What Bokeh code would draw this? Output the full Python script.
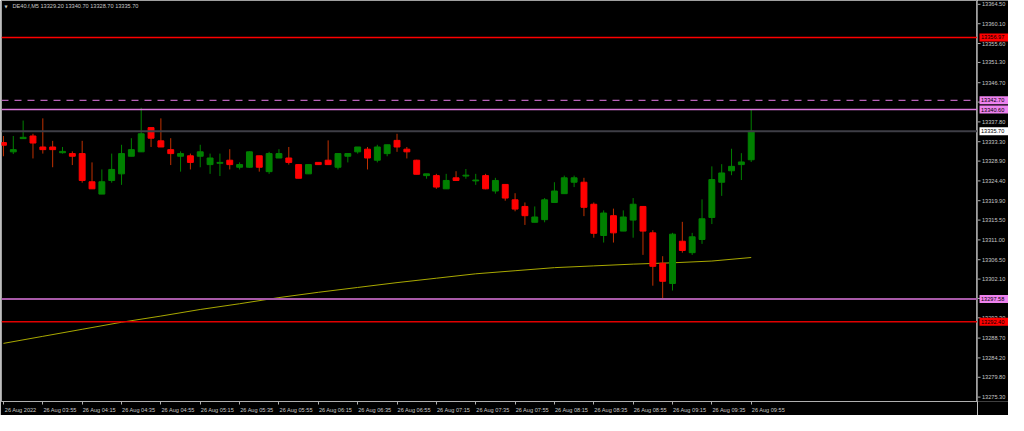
from bokeh.plotting import figure
from bokeh.layouts import row
from bokeh.models import (ColumnDataSource, Range1d, FixedTicker, CustomJSTickFormatter, Span, Label)
from bokeh.embed import file_html
from bokeh.resources import INLINE
from bokeh.core.properties import value

symbol = "DE40.f,M5"

opens = [13333.1, 13331.0, 13334.0, 13334.6, 13332.1, 13332.1, 13330.8, 13330.6, 13330.6, 13324.2,
         13321.4, 13324.5, 13326.0, 13330.0, 13331.0, 13336.5, 13333.5, 13331.5, 13330.0, 13330.1,
         13330.0, 13328.1, 13328.4, 13329.1, 13327.5, 13327.5, 13330.1, 13326.5, 13329.6, 13329.6,
         13328.1, 13326.0, 13328.6, 13329.1, 13327.5, 13330.0, 13331.0, 13331.6, 13329.1, 13330.6,
         13333.6, 13331.6, 13329.1, 13325.6, 13325.6, 13322.6, 13325.1, 13325.5, 13324.4, 13325.6,
         13322.1, 13323.6, 13320.1, 13318.6, 13315.0, 13315.6, 13319.5, 13321.5, 13324.1, 13324.1,
         13319.1, 13312.0, 13316.5, 13313.0, 13315.5, 13318.6, 13312.6, 13305.7, 13301.1, 13310.7,
         13308.1, 13311.1, 13316.1, 13324.1, 13326.7, 13328.1, 13329.2]
highs = [13334.6, 13334.6, 13338.1, 13335.1, 13338.6, 13333.5, 13332.1, 13331.1, 13333.5, 13328.6,
         13327.0, 13330.6, 13332.6, 13334.1, 13341.0, 13336.5, 13338.6, 13334.1, 13331.1, 13330.6,
         13332.6, 13330.6, 13330.6, 13331.6, 13328.6, 13331.1, 13330.1, 13331.0, 13331.6, 13332.1,
         13328.1, 13328.1, 13328.6, 13333.6, 13330.6, 13330.6, 13332.1, 13332.1, 13332.6, 13332.6,
         13335.1, 13332.1, 13329.2, 13326.0, 13326.0, 13326.0, 13326.6, 13327.1, 13326.0, 13326.0,
         13325.1, 13323.6, 13321.6, 13319.5, 13318.6, 13320.5, 13324.1, 13325.6, 13325.6, 13325.1,
         13319.5, 13317.7, 13318.1, 13317.7, 13320.5, 13318.6, 13313.2, 13307.3, 13312.6, 13315.1,
         13312.6, 13320.2, 13327.7, 13328.2, 13331.7, 13330.7, 13340.7]
lows = [13330.0, 13330.5, 13334.0, 13329.5, 13330.6, 13327.5, 13330.6, 13328.0, 13324.0, 13322.6,
        13321.4, 13324.0, 13323.5, 13330.0, 13331.0, 13332.1, 13332.1, 13328.0, 13326.5, 13327.0,
        13327.5, 13326.0, 13325.5, 13327.0, 13327.0, 13327.4, 13326.5, 13326.0, 13329.6, 13328.1,
        13325.0, 13326.0, 13328.1, 13328.1, 13327.0, 13328.6, 13330.6, 13327.0, 13328.6, 13330.0,
        13331.0, 13329.5, 13325.9, 13324.9, 13322.6, 13322.6, 13324.4, 13324.9, 13323.5, 13322.5,
        13321.5, 13319.9, 13317.5, 13314.4, 13315.0, 13315.0, 13319.5, 13321.5, 13323.0, 13316.4,
        13311.5, 13310.4, 13310.4, 13313.0, 13311.5, 13307.6, 13300.6, 13297.6, 13299.5, 13308.1,
        13307.6, 13310.1, 13314.6, 13321.0, 13325.7, 13324.6, 13328.7]
closes = [13332.5, 13331.5, 13334.3, 13333.0, 13331.5, 13331.5, 13331.1, 13330.0, 13324.5, 13322.6,
          13324.2, 13327.0, 13330.6, 13331.5, 13335.1, 13334.1, 13332.1, 13330.6, 13330.6, 13328.6,
          13331.0, 13329.6, 13328.6, 13328.1, 13328.1, 13331.0, 13327.5, 13330.6, 13330.6, 13328.6,
          13325.0, 13328.1, 13328.1, 13328.1, 13330.6, 13330.6, 13332.1, 13329.6, 13332.1, 13332.6,
          13332.1, 13331.0, 13325.9, 13326.0, 13323.0, 13324.5, 13324.5, 13325.7, 13324.6, 13322.6,
          13324.5, 13320.5, 13318.0, 13316.5, 13316.2, 13320.1, 13322.1, 13325.1, 13325.1, 13318.4,
          13312.5, 13317.1, 13312.6, 13316.2, 13319.1, 13313.0, 13305.0, 13301.6, 13312.3, 13308.6,
          13311.7, 13315.8, 13324.7, 13326.2, 13327.7, 13328.7, 13335.7]

# time-axis labels, one every 4 bars (20 minutes)
x_labels = ["26 Aug 2022", "26 Aug 03:55", "26 Aug 04:15", "26 Aug 04:35", "26 Aug 04:55",
            "26 Aug 05:15", "26 Aug 05:35", "26 Aug 05:55", "26 Aug 06:15", "26 Aug 06:35",
            "26 Aug 06:55", "26 Aug 07:15", "26 Aug 07:35", "26 Aug 07:55", "26 Aug 08:15",
            "26 Aug 08:35", "26 Aug 08:55", "26 Aug 09:15", "26 Aug 09:35", "26 Aug 09:55"]
label_step = 4

# moving average, read at each labelled bar
ma_values = [13287.5, 13289.1, 13290.7, 13292.3, 13293.7, 13295.2, 13296.5, 13297.9, 13299.1, 13300.2,
             13301.3, 13302.3, 13303.3, 13304.0, 13304.7, 13305.1, 13305.5, 13305.8, 13306.2, 13307.0]

# price-scale tick values
y_ticks = [13364.50, 13360.10, 13355.60, 13351.30, 13346.70, 13342.30, 13337.80, 13333.30, 13328.90,
           13324.40, 13319.90, 13315.50, 13311.00, 13306.50, 13302.10, 13297.70, 13293.30, 13288.70,
           13284.20, 13279.80, 13275.30]

# horizontal levels and their price tags
levels = [13356.97, 13342.70, 13340.60, 13335.70, 13297.58, 13292.40]
level_colors = ["#ff0000", "#b862b8", "#dc78dc", "#3e3e46", "#a85aa8", "#e00000"]
level_dash = ["solid", "7 6", "solid", "solid", "solid", "solid"]
level_width = [1.5, 1.2, 1.5, 2, 2, 1.5]
tag_fill = ["#ff0000", "#ee82ee", "#ee82ee", "#ffffff", "#ee82ee", "#ff0000"]

BULL = "#008000"
BEAR = "#ff0000"
BEAR_WICK = "#c03000"
FG = "#c8c8c8"
AXIS = "#b0b0b0"
FONT = "Liberation Sans"
FS = "5.6px"

TOTAL_H = 415
BOTTOM = 14          # height of the time-axis strip
SIDE_W = 31          # width of the price-scale strip
MAIN_W = 1008 - SIDE_W

idx = list(range(len(opens)))
up = [c >= o for o, c in zip(opens, closes)]
src = ColumnDataSource(dict(
    x=idx, high=highs, low=lows,
    top=[max(o, c) for o, c in zip(opens, closes)],
    bottom=[min(o, c) for o, c in zip(opens, closes)],
    body=[BULL if u else BEAR for u in up],
    wick=[BULL if u else BEAR_WICK for u in up],
))

x_end = 99.0
y_range = Range1d(13274.3, 13365.37)
p = figure(width=MAIN_W, height=TOTAL_H, output_backend="svg", toolbar_location=None,
           x_range=Range1d(-0.2, x_end), y_range=y_range,
           y_axis_location=None, background_fill_color="black", border_fill_color="black",
           outline_line_color="#a0a0a0", min_border_left=1, min_border_right=0,
           min_border_top=0, min_border_bottom=BOTTOM)
p.grid.visible = False

# horizontal levels
for lv, col, dash, w in zip(levels, level_colors, level_dash, level_width):
    p.add_layout(Span(location=lv, dimension="width", line_color=col, line_dash=dash, line_width=w))

# moving average
ma_x = [i * label_step for i in range(len(ma_values))]
p.line(ma_x, ma_values, line_color="#a8a800", line_width=1)

# candles
p.segment(x0="x", y0="high", x1="x", y1="low", source=src, line_color="wick", line_width=1)
p.vbar(x="x", width=0.6, top="top", bottom="bottom", source=src, fill_color="body",
       line_color="body", line_width=1)

# time axis: tick marks at labelled bars, labels starting just right of them
shift = 1.75
xa = p.xaxis[0]
xa.ticker = FixedTicker(ticks=[i * label_step + shift for i in range(len(x_labels))],
                        minor_ticks=[i * label_step for i in range(len(x_labels))])
xa.formatter = CustomJSTickFormatter(
    args=dict(labels=x_labels, step=label_step, shift=shift),
    code="const k = Math.round((tick - shift) / step); return (k >= 0 && k < labels.length) ? labels[k] : '';")
xa.axis_line_color = AXIS
xa.major_tick_line_color = None
xa.major_tick_out = 0
xa.major_tick_in = 0
xa.minor_tick_line_color = AXIS
xa.minor_tick_out = 3
xa.minor_tick_in = 0
xa.major_label_standoff = 2
xa.major_label_text_color = FG
xa.major_label_text_font = FONT
xa.major_label_text_font_size = FS

# header
p.add_layout(Label(x=-0.2, y=y_range.end, x_offset=3, y_offset=-3, text="\u25bc", text_baseline="top",
                   text_color=FG, text_font="DejaVu Sans", text_font_size="4px"))
title = f"{symbol}  {opens[-1]:.2f} {highs[-1]:.2f} {lows[-1]:.2f} {closes[-1]:.2f}"
p.add_layout(Label(x=-0.2, y=y_range.end, x_offset=11, y_offset=-2.5, text=title, text_baseline="top",
                   text_color=FG, text_font=FONT, text_font_size=FS))

# price scale strip on the right, sharing the same price scale
s = figure(width=SIDE_W, height=TOTAL_H, output_backend="svg", toolbar_location=None,
           x_range=Range1d(0, SIDE_W), y_range=y_range,
           x_axis_location=None, y_axis_location=None,
           background_fill_color="black", border_fill_color="black", outline_line_color=None,
           min_border_left=0, min_border_right=0, min_border_top=0, min_border_bottom=BOTTOM)
s.grid.visible = False
s.segment(x0=[0] * len(y_ticks), y0=y_ticks, x1=[3] * len(y_ticks), y1=y_ticks,
          line_color=AXIS, line_width=1)
s.text(x=[4.5] * len(y_ticks), y=y_ticks, text=[f"{t:.2f}" for t in y_ticks],
       text_baseline="middle", text_align="left", text_color=FG,
       text_font=value(FONT), text_font_size=FS)
s.rect(x=[16.5] * len(levels), y=levels, width=29, height=8, height_units="screen",
       fill_color=tag_fill, line_color=None)
s.text(x=[3.5] * len(levels), y=levels, text=[f"{lv:.2f}" for lv in levels],
       text_baseline="middle", text_align="left", text_color="#000000",
       text_font=value(FONT), text_font_size=FS)

layout = row(p, s, spacing=0)
open("out.html", "w").write(file_html(layout, INLINE))
